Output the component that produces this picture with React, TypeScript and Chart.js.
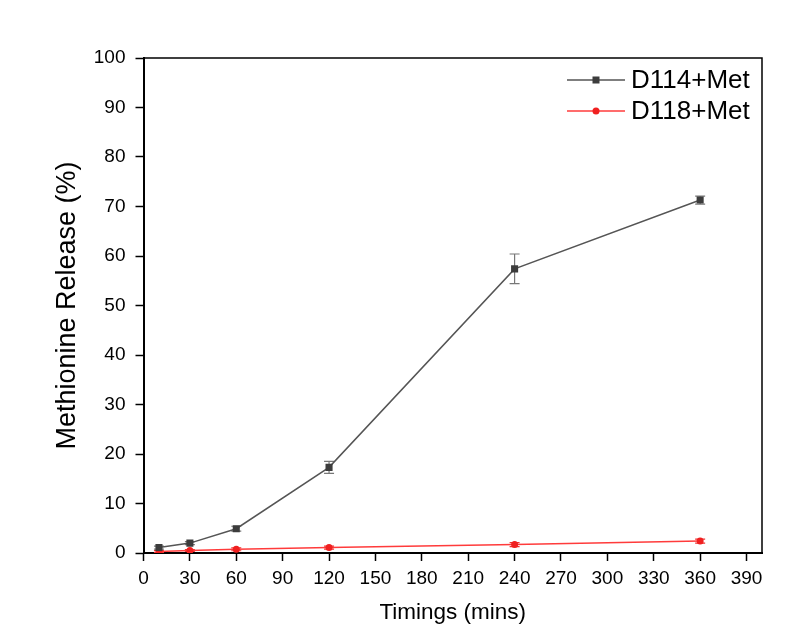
import React, { useEffect, useRef } from "react";
import { Chart, registerables } from "chart.js";

Chart.register(...registerables);

const timings = [10, 30, 60, 120, 240, 360];
const d114Values = [1.1, 2.0, 4.9, 17.3, 57.4, 71.3];
const d114Errors = [0.3, 0.3, 0.5, 1.2, 3.0, 0.8];
const d118Values = [0.3, 0.5, 0.75, 1.1, 1.7, 2.4];
const d118Errors = [0.2, 0.2, 0.3, 0.3, 0.4, 0.4];
const xTickValues = [0, 30, 60, 90, 120, 150, 180, 210, 240, 270, 300, 330, 360, 390];
const yTickValues = [0, 10, 20, 30, 40, 50, 60, 70, 80, 90, 100];
const seriesNames = ["D114+Met", "D118+Met"];

const FONT = "'Liberation Sans', Arial, Helvetica, sans-serif";

const errorBarPlugin = {
  id: "errorBars",
  beforeDatasetsDraw(chart: any) {
    const ctx = chart.ctx;
    const y = chart.scales.y;
    chart.data.datasets.forEach((ds: any, i: number) => {
      const meta = chart.getDatasetMeta(i);
      const errs: number[] = ds.errors || [];
      ctx.save();
      ctx.strokeStyle = ds.errorColor;
      ctx.lineWidth = 1.2;
      meta.data.forEach((pt: any, j: number) => {
        const v = ds.data[j].y;
        const e = errs[j] || 0;
        const top = y.getPixelForValue(v + e);
        const bot = y.getPixelForValue(v - e);
        const x = pt.x;
        const cap = 5;
        ctx.beginPath();
        ctx.moveTo(x, top);
        ctx.lineTo(x, bot);
        ctx.moveTo(x - cap, top);
        ctx.lineTo(x + cap, top);
        ctx.moveTo(x - cap, bot);
        ctx.lineTo(x + cap, bot);
        ctx.stroke();
      });
      ctx.restore();
    });
  },
};

const framePlugin = {
  id: "frame",
  afterDraw(chart: any) {
    const { ctx, chartArea } = chart;
    ctx.save();
    ctx.strokeStyle = "#000";
    ctx.lineWidth = 1.5;
    ctx.beginPath();
    ctx.moveTo(chartArea.left, chartArea.top);
    ctx.lineTo(chartArea.right, chartArea.top);
    ctx.lineTo(chartArea.right, chartArea.bottom);
    ctx.stroke();
    ctx.restore();

    // legend
    const items = chart.data.datasets;
    ctx.save();
    ctx.font = `26px ${FONT}`;
    ctx.textBaseline = "middle";
    ctx.fillStyle = "#000";
    const lineX0 = 567;
    const lineX1 = 625;
    const textX = 631;
    const rowY = [80, 111];
    items.forEach((ds: any, i: number) => {
      const yy = rowY[i];
      ctx.strokeStyle = ds.borderColor;
      ctx.lineWidth = 1.5;
      ctx.beginPath();
      ctx.moveTo(lineX0, yy);
      ctx.lineTo(lineX1, yy);
      ctx.stroke();
      ctx.fillStyle = ds.pointBackgroundColor;
      const cx = (lineX0 + lineX1) / 2;
      if (ds.pointStyle === "rect") {
        ctx.fillRect(cx - 3.5, yy - 3.5, 7, 7);
      } else {
        ctx.beginPath();
        ctx.arc(cx, yy, 3.5, 0, Math.PI * 2);
        ctx.fill();
      }
      ctx.fillStyle = "#000";
      ctx.fillText(ds.label, textX, yy + 1);
    });
    ctx.restore();
  },
};

export default function App() {
  const ref = useRef<HTMLCanvasElement>(null);
  useEffect(() => {
    if (!ref.current) return;
    const chart = new Chart(ref.current, {
      type: "line",
      data: {
        datasets: [
          {
            label: seriesNames[0],
            data: timings.map((t, i) => ({ x: t, y: d114Values[i] })),
            borderColor: "#555555",
            backgroundColor: "#3c3c3c",
            pointBackgroundColor: "#3c3c3c",
            pointBorderColor: "#3c3c3c",
            pointStyle: "rect",
            pointRadius: 5,
            pointBorderWidth: 0,
            borderWidth: 1.5,
            tension: 0,
            errors: d114Errors,
            errorColor: "#777777",
          } as any,
          {
            label: seriesNames[1],
            data: timings.map((t, i) => ({ x: t, y: d118Values[i] })),
            borderColor: "#ff3b3b",
            backgroundColor: "#f02020",
            pointBackgroundColor: "#f02020",
            pointBorderColor: "#f02020",
            pointStyle: "circle",
            pointRadius: 3.5,
            pointBorderWidth: 0,
            borderWidth: 1.5,
            tension: 0,
            errors: d118Errors,
            errorColor: "#f03030",
          } as any,
        ],
      },
      options: {
        animation: false,
        responsive: false,
        maintainAspectRatio: false,
        layout: { padding: { left: 0, top: 58, right: 41, bottom: 0 } },
        plugins: {
          legend: { display: false },
          tooltip: { enabled: false },
        },
        scales: {
          x: {
            type: "linear",
            min: 0,
            max: 400,
            afterBuildTicks: (scale: any) => {
              scale.ticks = xTickValues.map((v) => ({ value: v }));
            },
            afterFit: (scale: any) => {
              scale.height = 81;
            },
            grid: {
              drawOnChartArea: false,
              drawTicks: true,
              tickLength: 8,
              tickWidth: 1.5,
              tickColor: "#000",
            },
            border: { display: true, color: "#000", width: 2 },
            ticks: {
              color: "#000",
              padding: 6,
              maxRotation: 0,
              autoSkip: false,
              font: { family: FONT, size: 19 },
            },
            title: {
              display: true,
              text: "Timings (mins)",
              color: "#000",
              font: { family: FONT, size: 22.5 },
              padding: { top: 0, bottom: 8 },
            },
          },
          y: {
            type: "linear",
            min: 0,
            max: 100,
            afterBuildTicks: (scale: any) => {
              scale.ticks = yTickValues.map((v) => ({ value: v }));
            },
            afterFit: (scale: any) => {
              scale.width = 143.5;
            },
            grid: {
              drawOnChartArea: false,
              drawTicks: true,
              tickLength: 8,
              tickWidth: 1.5,
              tickColor: "#000",
            },
            border: { display: true, color: "#000", width: 2 },
            ticks: {
              color: "#000",
              padding: 10,
              autoSkip: false,
              font: { family: FONT, size: 19 },
            },
            title: {
              display: true,
              text: "Methionine Release (%)",
              color: "#000",
              font: { family: FONT, size: 27 },
              padding: { top: 51, bottom: 0 },
            },
          },
        },
      },
      plugins: [errorBarPlugin, framePlugin],
    });
    return () => chart.destroy();
  }, []);
  return (
    <div style={{ position: "fixed", left: 0, top: 0, width: 803, height: 634, background: "#fff" }}>
      <canvas ref={ref} width={803} height={634} style={{ width: 803, height: 634, display: "block" }} />
    </div>
  );
}
